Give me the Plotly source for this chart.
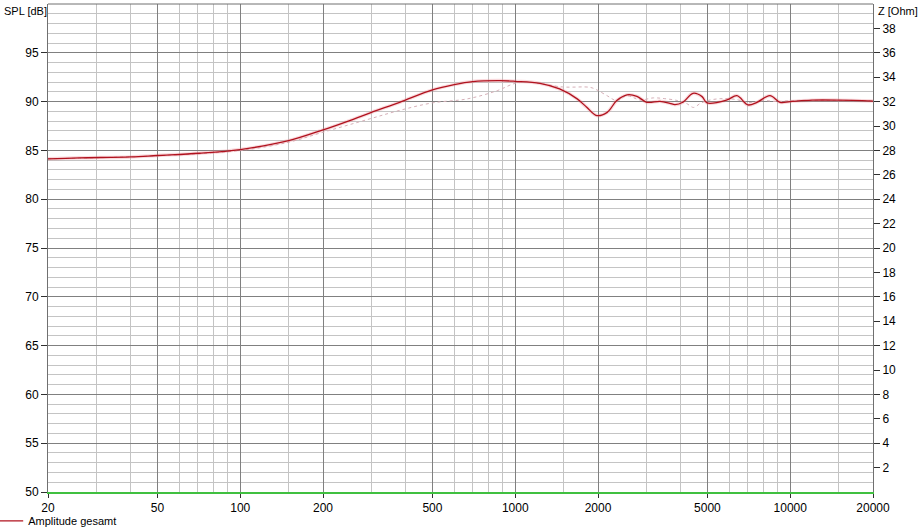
import plotly.graph_objects as go

# Frequency response
freq_total = [20, 26, 40, 50, 71, 100, 150, 200, 250, 300, 380, 500, 600, 700, 880,
              1000, 1230, 1450, 1680, 1820, 1980, 2160, 2340, 2550, 2770, 3010, 3360,
              3650, 3810, 4070, 4430, 4780, 4980, 5890, 6400, 7020, 7570, 8440, 9180,
              10000, 12000, 15000, 20000]
spl_total = [84.14, 84.24, 84.33, 84.48, 84.71, 85.09, 86.0, 87.1, 88.06, 88.9, 89.93,
             91.2, 91.74, 92.05, 92.15, 92.08, 91.87, 91.3, 90.28, 89.42, 88.57, 88.9,
             90.1, 90.69, 90.54, 89.93, 90.03, 89.83, 89.69, 89.93, 90.85, 90.51, 89.87,
             90.17, 90.61, 89.66, 89.93, 90.61, 89.93, 90.0, 90.15, 90.15, 90.05]

freq_ref = [20, 50, 100, 150, 200, 290, 380, 500, 670, 860, 1000, 1130, 1490, 1870,
            1980, 2160, 2340, 2550, 2840, 3180, 3500, 3900, 4200, 4450, 4700, 5000,
            5600, 6400, 7000, 8000, 9000, 10000, 20000]
spl_ref = [84.14, 84.45, 85.0, 85.84, 86.86, 88.16, 89.1, 89.87, 90.28, 91.12, 91.87,
           91.97, 91.5, 91.46, 91.2, 90.6, 90.1, 90.6, 90.17, 90.38, 90.3, 90.1, 89.8,
           89.4, 89.8, 90.1, 90.3, 90.2, 89.9, 90.1, 90.0, 90.1, 90.1]

x_ticks = [20, 50, 100, 200, 500, 1000, 2000, 5000, 10000, 20000]
x_minor = [30, 40, 60, 70, 80, 90, 150, 300, 400, 600, 700, 800, 900, 1500,
           3000, 4000, 6000, 7000, 8000, 9000, 15000]
spl_ticks = [50, 55, 60, 65, 70, 75, 80, 85, 90, 95]
z_ticks = list(range(2, 40, 2))

font = dict(family="Liberation Sans, Arial", size=12, color="black")
small = dict(family=font['family'], size=11, color='black')

fig = go.Figure()

fig.add_trace(go.Scatter(x=freq_ref, y=spl_ref, mode='lines', showlegend=False,
                         line=dict(color='#d6b0b8', width=1, dash='3px,3px', shape='spline')))
fig.add_trace(go.Scatter(x=freq_total, y=spl_total, mode='lines', showlegend=False,
                         line=dict(color='rgba(235,130,140,0.3)', width=3.5, shape='spline'),
                         hoverinfo='skip'))
fig.add_trace(go.Scatter(x=freq_total, y=spl_total, mode='lines', name='Amplitude gesamt',
                         line=dict(color='#b0121e', width=1.3, shape='spline')))
# empty trace only to get the right hand Z axis
fig.add_trace(go.Scatter(x=[20], y=[None], yaxis='y2', showlegend=False))

fig.update_layout(
    width=919, height=529,
    margin=dict(l=48, r=46, t=4, b=37, autoexpand=False),
    paper_bgcolor='white', plot_bgcolor='white',
    font=font,
    showlegend=True,
    legend=dict(x=-0.0725, y=-0.059, xanchor='left', yanchor='middle',
                itemwidth=30, font=small, bgcolor='rgba(0,0,0,0)'),
    xaxis=dict(type='log', range=[1.30103, 4.30103], automargin=False,
               tickvals=x_ticks, ticktext=[str(v) for v in x_ticks],
               ticks='outside', ticklen=4, tickcolor='#303030',
               showgrid=True, gridcolor='#808080', gridwidth=1,
               minor=dict(tickvals=x_minor, showgrid=True, gridcolor='#c4c4c4',
                          ticks=''),
               showline=True, linecolor='#40c040', linewidth=1.5,
               zeroline=False),
    yaxis=dict(range=[50, 100], tickvals=spl_ticks, automargin=False,
               ticks='outside', ticklen=6, tickcolor='#303030',
               showgrid=True, gridcolor='#808080', gridwidth=1,
               minor=dict(dtick=1, showgrid=True, gridcolor='#c4c4c4', ticks=''),
               showline=True, linecolor='#707070', mirror=True,
               zeroline=False),
    yaxis2=dict(range=[0, 40], overlaying='y', side='right', tickvals=z_ticks,
                automargin=False, ticks='outside', ticklen=6, tickcolor='#303030',
                showgrid=False, zeroline=False, showline=False),
)

fig.add_shape(type='line', xref='paper', yref='paper', x0=0, x1=1, y0=1, y1=1,
              line=dict(color='#707070', width=1))

fig.add_annotation(text='SPL [dB]', xref='paper', yref='paper', x=-0.056, y=1,
                   xanchor='left', yanchor='top', yshift=1, showarrow=False, font=small)
fig.add_annotation(text='Z [Ohm]', xref='paper', yref='paper', x=1.004, y=1,
                   xanchor='left', yanchor='top', yshift=1, showarrow=False, font=small)

# the page's default 8px body margin would shift the whole chart
fig.write_html("out.html", config={'displayModeBar': False},
               post_script="document.body.style.margin='0';")
